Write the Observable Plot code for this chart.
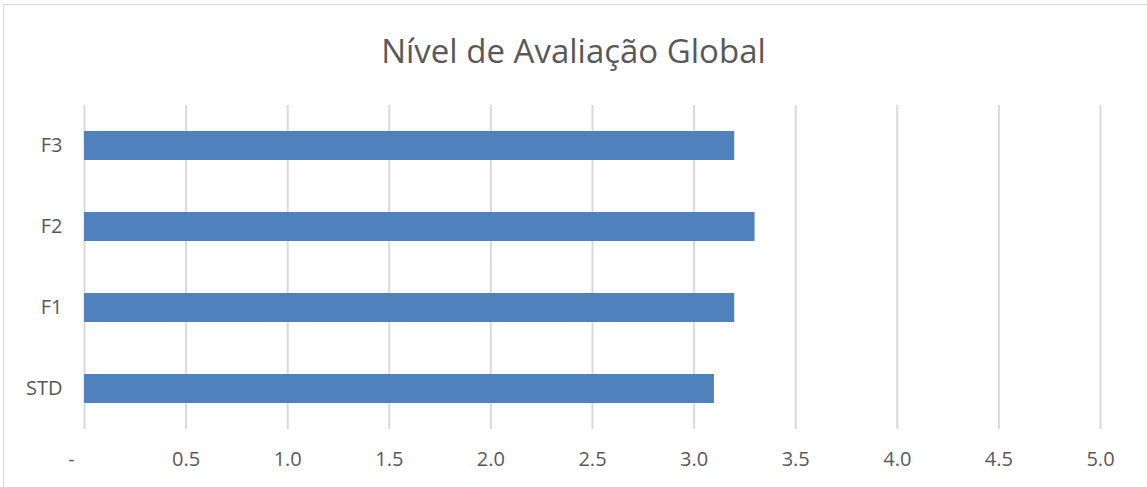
<!DOCTYPE html>
<html>
<head>
<meta charset="utf-8">
<script src="https://cdn.jsdelivr.net/npm/d3@7"></script>
<script src="https://cdn.jsdelivr.net/npm/@observablehq/plot@0.6"></script>
<style>
  html, body { margin: 0; padding: 0; background: #fff; }
  #frame { position: relative; width: 1147px; height: 487px; overflow: hidden; background: #fff; }
  #border { position: absolute; left: 3px; top: 4px; width: 1160px; height: 500px; border: 1px solid #d9d9d9; box-sizing: border-box; }
  #title { position: absolute; left: 0; top: 1px; width: 1147px; height: 100px; line-height: 100px; text-align: center;
           font-family: "Open Sans", sans-serif; font-size: 33px; color: #595959; }
  #chart { position: absolute; left: 0; top: 100px; }
</style>
</head>
<body>
<div id="frame">
  <div id="border"></div>
  <div id="title">Nível de Avaliação Global</div>
  <div id="chart"></div>
</div>
<script>
const categories = ["F3", "F2", "F1", "STD"];
const values = [3.2, 3.3, 3.2, 3.1];
const xTicks = [0, 0.5, 1.0, 1.5, 2.0, 2.5, 3.0, 3.5, 4.0, 4.5, 5.0];

const data = categories.map((c, i) => ({ cat: c, value: values[i] }));

const plot = Plot.plot({
  width: 1147,
  height: 387,
  marginLeft: 84,
  marginRight: 47,
  marginTop: 5,
  marginBottom: 58,
  style: { fontFamily: "'Open Sans', sans-serif", fontSize: "20px", color: "#595959", background: "transparent" },
  x: { domain: [0, 5], ticks: xTicks, label: null },
  y: { domain: categories, label: null, paddingInner: 0.64, paddingOuter: 0.32 },
  marks: [
    Plot.ruleX(xTicks, { stroke: "#d9d9d9", strokeWidth: 2 }),
    Plot.barX(data, { x: "value", y: "cat", fill: "#4f81bd" }),
    Plot.axisX({ ticks: xTicks, tickSize: 0, tickPadding: 22, tickFormat: d => d === 0 ? "-\u00a0\u00a0\u00a0\u00a0\u00a0" : d.toFixed(1), fill: "#595959", fontSize: 20 }),
    Plot.axisY({ tickSize: 0, tickPadding: 22, fill: "#595959", fontSize: 20 })
  ]
});
document.getElementById("chart").appendChild(plot);
</script>
</body>
</html>
